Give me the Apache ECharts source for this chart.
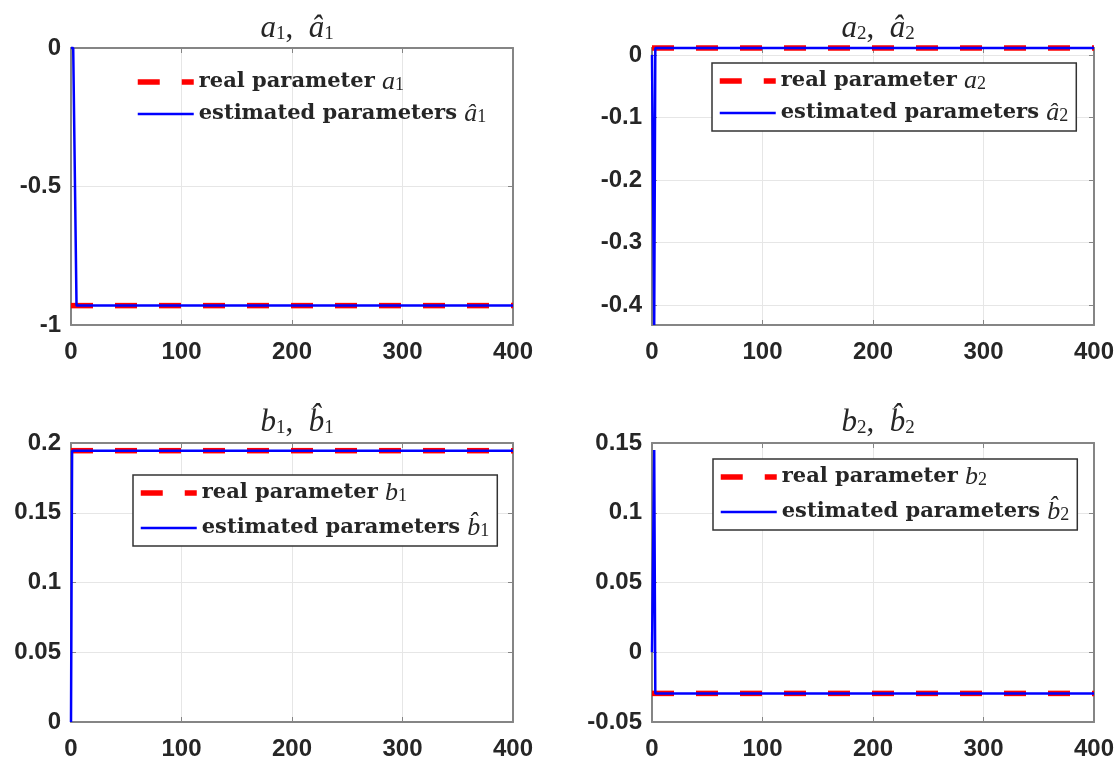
<!DOCTYPE html>
<html>
<head>
<meta charset="utf-8">
<script src="https://cdn.jsdelivr.net/npm/echarts@6/dist/echarts.min.js"></script>
<style>
  html, body { margin: 0; padding: 0; background: #fff; }
  #chart { width: 1119px; height: 764px; }
</style>
</head>
<body>
<div id="chart"></div>
<script>
// Time axis and tick labels shared by all four panels
const timeRange = [0, 400];
const xTicks = [0, 100, 200, 300, 400];

// True (constant) parameter values
const realA1 = -0.93;
const realA2 = 0.011;
const realB1 = 0.1945;
const realB2 = -0.0295;

// Estimated parameter trajectories: sample times and values
const estA1Time = [0, 2, 5, 400];
const estA1Vals = [0, 0, -0.93, -0.93];
const estA2Time = [0, 2, 3, 400];
const estA2Vals = [0, -0.432, 0.011, 0.011];
const estB1Time = [0, 1, 400];
const estB1Vals = [0, 0.1945, 0.1945];
const estB2Time = [0, 1, 2, 3, 400];
const estB2Vals = [0, 0, 0.145, -0.0295, -0.0295];

// Y-axis ranges and tick values per panel
const yA1 = { min: -1, max: 0, ticks: [-1, -0.5, 0] };
const yA2 = { min: -0.432, max: 0.011, ticks: [-0.4, -0.3, -0.2, -0.1, 0] };
const yB1 = { min: 0, max: 0.2, ticks: [0, 0.05, 0.1, 0.15, 0.2] };
const yB2 = { min: -0.05, max: 0.15, ticks: [-0.05, 0, 0.05, 0.1, 0.15] };

const RED = '#ff0000';
const BLUE = '#0000ff';
const AXIS = '#858585';
const GRID = '#e6e6e6';
const TEXT = '#262626';

const grids = [
  { left: 71, top: 48, width: 442, height: 277 },
  { left: 652, top: 48, width: 442, height: 277 },
  { left: 71, top: 443, width: 442, height: 279 },
  { left: 652, top: 443, width: 442, height: 279 }
];

const tickLabel = {
  fontFamily: 'Liberation Sans, Arial, sans-serif',
  fontWeight: 'bold',
  fontSize: 24,
  color: TEXT
};

function fmt(v) { return String(+(+v).toFixed(3)); }

const xAxes = [];
const yAxes = [];
function addAxes(gi, yr) {
  const line = { show: true, onZero: false, lineStyle: { color: AXIS, width: 2 } };
  xAxes.push({
    type: 'value', gridIndex: gi, min: timeRange[0], max: timeRange[1],
    axisLine: line,
    axisTick: { inside: true, length: 5, lineStyle: { color: AXIS }, customValues: xTicks },
    axisLabel: Object.assign({ margin: 15, formatter: fmt, customValues: xTicks }, tickLabel),
    splitLine: { show: true, lineStyle: { color: GRID, width: 1 } }
  });
  xAxes.push({
    type: 'value', gridIndex: gi, position: 'top', min: timeRange[0], max: timeRange[1],
    axisLine: line,
    axisTick: { inside: true, length: 5, lineStyle: { color: AXIS }, customValues: xTicks },
    axisLabel: { show: false },
    splitLine: { show: false }
  });
  yAxes.push({
    type: 'value', gridIndex: gi, min: yr.min, max: yr.max,
    axisLine: line,
    axisTick: { inside: true, length: 5, lineStyle: { color: AXIS }, customValues: yr.ticks },
    axisLabel: Object.assign({ margin: 10, formatter: fmt, customValues: yr.ticks }, tickLabel),
    splitLine: { show: true, lineStyle: { color: GRID, width: 1 } }
  });
  yAxes.push({
    type: 'value', gridIndex: gi, position: 'right', min: yr.min, max: yr.max,
    axisLine: line,
    axisTick: { inside: true, length: 5, lineStyle: { color: AXIS }, customValues: yr.ticks },
    axisLabel: { show: false },
    splitLine: { show: false }
  });
}
[yA1, yA2, yB1, yB2].forEach((yr, i) => addAxes(i, yr));

function pairs(ts, vs) { return ts.map((t, i) => [t, vs[i]]); }

const panels = [
  { sym: 'a', idx: '1', real: realA1, t: estA1Time, v: estA1Vals },
  { sym: 'a', idx: '2', real: realA2, t: estA2Time, v: estA2Vals },
  { sym: 'b', idx: '1', real: realB1, t: estB1Time, v: estB1Vals },
  { sym: 'b', idx: '2', real: realB2, t: estB2Time, v: estB2Vals }
];

const hat = { a: '\u00e2', b: 'b\u0302' };
const series = [];
const legendText = {};
panels.forEach((p, i) => {
  const realName = 'real ' + p.sym + p.idx;
  const estName = 'est ' + p.sym + p.idx;
  legendText[realName] = '{t|real parameter }{m|' + p.sym + '}{s|' + p.idx + '}';
  legendText[estName] = '{t|estimated parameters }{m|' + hat[p.sym] + '}{s|' + p.idx + '}';
  series.push({
    name: realName, type: 'line', xAxisIndex: 2 * i, yAxisIndex: 2 * i,
    data: pairs(timeRange, [p.real, p.real]),
    symbol: 'none', clip: false, z: 2, silent: true,
    lineStyle: { color: RED, width: 5.5, type: [22, 22] },
    itemStyle: { color: RED }
  });
  series.push({
    name: estName, type: 'line', xAxisIndex: 2 * i, yAxisIndex: 2 * i,
    data: pairs(p.t, p.v),
    symbol: 'none', clip: false, z: 3, silent: true,
    lineStyle: { color: BLUE, width: 2.5 },
    itemStyle: { color: BLUE }
  });
});

const legendRich = {
  t: { fontFamily: 'DejaVu Serif', fontWeight: 'bold', fontSize: 21, color: TEXT, lineHeight: 24 },
  m: { fontFamily: 'Liberation Serif', fontStyle: 'italic', fontWeight: 'normal', fontSize: 26, color: TEXT, lineHeight: 24 },
  s: { fontFamily: 'Liberation Serif', fontWeight: 'normal', fontSize: 18, color: TEXT, lineHeight: 8, verticalAlign: 'bottom' }
};

function makeLegend(i, left, top, gap, boxed) {
  const p = panels[i];
  return {
    data: ['real ' + p.sym + p.idx, 'est ' + p.sym + p.idx],
    orient: 'vertical', left: left, top: top,
    itemWidth: 56, itemHeight: 24, itemGap: gap,
    padding: [5, 8, 5, 5],
    borderColor: boxed ? '#333333' : 'transparent',
    borderWidth: boxed ? 1.5 : 0,
    backgroundColor: boxed ? '#ffffff' : 'transparent',
    borderRadius: 0,
    selectedMode: false,
    itemStyle: { opacity: 0 },
    lineStyle: { width: 'inherit', type: 'inherit', color: 'inherit' },
    formatter: n => legendText[n],
    textStyle: { padding: [0, 0, 0, 0], rich: legendRich }
  };
}

const titleRich = {
  m: { fontFamily: 'Liberation Serif', fontStyle: 'italic', fontWeight: 'normal', fontSize: 31, color: TEXT, lineHeight: 30 },
  p: { fontFamily: 'Liberation Serif', fontWeight: 'normal', fontSize: 31, color: TEXT, lineHeight: 30 },
  s: { fontFamily: 'Liberation Serif', fontWeight: 'normal', fontSize: 19, color: TEXT, lineHeight: 10, verticalAlign: 'bottom' }
};
function makeTitle(i, cx, top) {
  const p = panels[i];
  return {
    text: '{m|' + p.sym + '}{s|' + p.idx + '}{p|,  }{m|' + hat[p.sym] + '}{s|' + p.idx + '}',
    left: cx, top: top, textAlign: 'center',
    textStyle: { fontWeight: 'normal', rich: titleRich }
  };
}

const option = {
  animation: false,
  backgroundColor: '#ffffff',
  title: [
    makeTitle(0, 292, 9),
    makeTitle(1, 873, 9),
    makeTitle(2, 292, 403),
    makeTitle(3, 873, 403)
  ],
  legend: [
    makeLegend(0, 130, 64, 6, false),
    makeLegend(1, 712, 63, 6, true),
    makeLegend(2, 133, 475, 9, true),
    makeLegend(3, 713, 459, 9, true)
  ],
  grid: grids,
  xAxis: xAxes,
  yAxis: yAxes,
  series: series
};

const chart = echarts.init(document.getElementById('chart'), null, { renderer: 'canvas' });
chart.setOption(option);
</script>
</body>
</html>
